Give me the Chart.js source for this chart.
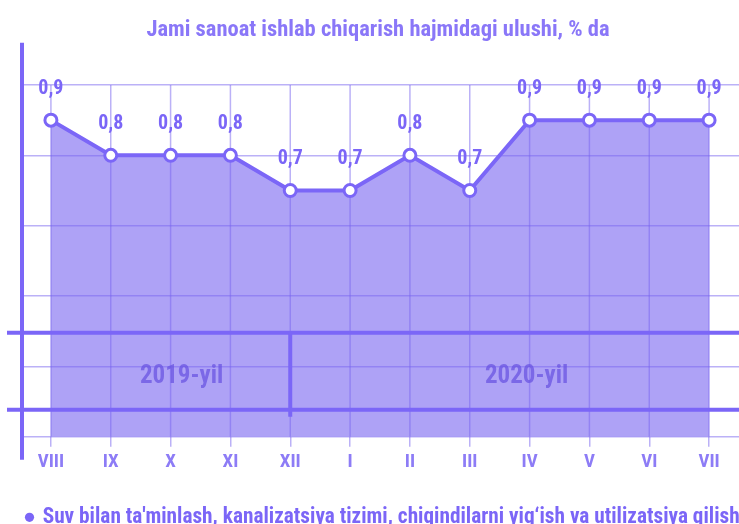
<!DOCTYPE html>
<html>
<head>
<meta charset="utf-8">
<script src="https://cdn.jsdelivr.net/npm/chart.js@4"></script>
<style>
  body { margin: 0; overflow: hidden; background: #fff; }
  #wrap { width: 739px; height: 538px; }
</style>
</head>
<body>
<div id="wrap"><canvas id="myChart"></canvas></div>
<script>
var months = ["VIII", "IX", "X", "XI", "XII", "I", "II", "III", "IV", "V", "VI", "VII"];
var ulush = [0.9, 0.8, 0.8, 0.8, 0.7, 0.7, 0.8, 0.7, 0.9, 0.9, 0.9, 0.9];
var yTicks = [0, 0.2, 0.4, 0.6, 0.8, 1.0];
var years = ["2019-yil", "2020-yil"];
var seriesName = "Suv bilan ta'minlash, kanalizatsiya tizimi, chiqindilarni yig\u2018ish va utilizatsiya qilish";

var FONT = "'Roboto Condensed', 'Open Sans', sans-serif";
var strong = "#7b66f7";
var gridCol = "rgba(120,100,240,0.5)";

// extra drawing: vertical grid, thick axis, year band, value labels
var decor = {
  id: "decor",
  beforeDatasetsDraw: function (chart) {
    var c = chart.ctx, a = chart.chartArea, x = chart.scales.x, y = chart.scales.y;
    var top = y.getPixelForValue(1.0);
    c.save();
    c.strokeStyle = gridCol;
    c.lineWidth = 1.5;
    for (var i = 0; i < months.length; i++) {
      var px = x.getPixelForValue(i);
      c.beginPath();
      c.moveTo(px, top);
      c.lineTo(px, a.bottom);
      c.stroke();
    }
    c.restore();
  },
  afterDatasetsDraw: function (chart) {
    var c = chart.ctx, a = chart.chartArea, x = chart.scales.x, y = chart.scales.y;
    c.save();
    // year band lines
    var b1 = a.bottom - 104, b2 = a.bottom - 27;
    c.strokeStyle = strong;
    c.lineWidth = 4;
    c.beginPath();
    c.moveTo(7, b1); c.lineTo(chart.width, b1);
    c.moveTo(7, b2); c.lineTo(chart.width, b2);
    var dx = x.getPixelForValue(4);
    c.moveTo(dx, b1); c.lineTo(dx, b2 + 7);
    c.stroke();
    // left axis
    c.beginPath();
    c.moveTo(a.left + 1, a.top);
    c.lineTo(a.left + 1, a.bottom + 23);
    c.stroke();
    // year labels
    c.fillStyle = "rgba(105,84,225,0.75)";
    c.font = "bold 25px " + FONT;
    c.textAlign = "center";
    c.textBaseline = "middle";
    var ym = (b1 + b2) / 2 + 6;
    c.fillText(years[0], x.getPixelForValue(2) + 11, ym);
    c.fillText(years[1], x.getPixelForValue(8) - 3, ym);
    // value labels
    c.fillStyle = strong;
    c.font = "bold 20px " + FONT;
    var meta = chart.getDatasetMeta(0);
    meta.data.forEach(function (pt, i) {
      c.fillText(String(ulush[i]).replace(".", ","), pt.x, pt.y - 31);
    });
    c.restore();
  }
};

var ctx = document.getElementById("myChart").getContext("2d");
var myChart = new Chart(ctx, {
  type: "line",
  data: {
    labels: months,
    datasets: [{
      label: seriesName,
      data: ulush,
      borderColor: strong,
      borderWidth: 4,
      backgroundColor: "rgba(120,100,240,0.6)",
      fill: "origin",
      tension: 0,
      pointRadius: 6,
      pointBorderWidth: 3,
      pointBackgroundColor: "#fff",
      pointBorderColor: strong
    }]
  },
  options: {
    responsive: true,
    maintainAspectRatio: false,
    animation: false,
    layout: { autoPadding: false, padding: { left: 17, right: 0, top: 0, bottom: 0 } },
    plugins: {
      title: {
        display: true,
        text: "Jami sanoat ishlab chiqarish hajmidagi ulushi, % da",
        color: "#8a77f8",
        font: { family: FONT, size: 22.5, weight: "bold", lineHeight: 1.1 },
        padding: { top: 18, bottom: 0 }
      },
      legend: {
        position: "bottom",
        align: "start",
        labels: {
          usePointStyle: true,
          boxWidth: 5,
          boxHeight: 6.5,
          padding: 10,
          color: strong,
          font: { family: FONT, size: 21.3, weight: "bold" },
          generateLabels: function (chart) {
            var items = Chart.defaults.plugins.legend.labels.generateLabels(chart);
            items.forEach(function (it) {
              it.fillStyle = strong;
              it.strokeStyle = strong;
              it.lineWidth = 0;
              it.pointStyle = "circle";
            });
            return items;
          }
        }
      },
      tooltip: { enabled: false }
    },
    scales: {
      x: {
        offset: true,
        border: { display: false },
        grid: { drawOnChartArea: false, drawTicks: true, tickLength: 10, color: gridCol, lineWidth: 1.5 },
        ticks: { color: "#8d7cf6", padding: 4, font: { family: FONT, size: 19, weight: "bold" } },
        afterFit: function (s) { s.height = 60; s.paddingLeft = 0; s.paddingRight = 0; }
      },
      y: {
        min: 0,
        max: 1.12,
        border: { display: false },
        grid: { drawTicks: false, color: gridCol, lineWidth: 1.5 },
        ticks: { display: false },
        afterBuildTicks: function (s) {
          s.ticks = yTicks.map(function (v) { return { value: v }; });
        },
        afterFit: function (s) { s.width = 4; }
      }
    }
  },
  plugins: [decor]
});
</script>
</body>
</html>
